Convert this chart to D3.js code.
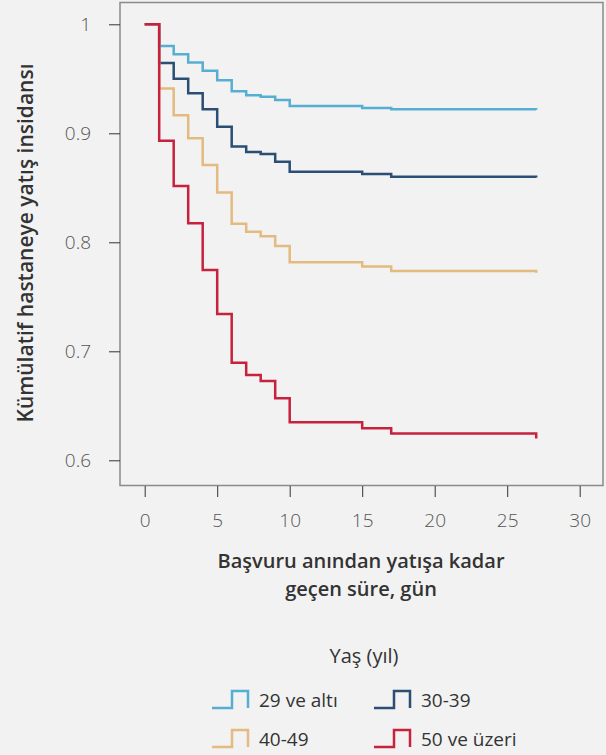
<!DOCTYPE html>
<html><head><meta charset="utf-8">
<script src="https://cdn.jsdelivr.net/npm/d3@7"></script>
<style>
html,body{margin:0;padding:0;background:#f2f2f2;}
svg{display:block;font-family:"Open Sans",sans-serif;}
</style></head><body>
<svg id="c" width="606" height="755"></svg>
<script>
const times = [0,1,2,3,4,5,6,7,8,9,10,15,17,27];
const s29 = [1,0.980,0.9725,0.965,0.9574,0.9486,0.9385,0.935,0.9336,0.9305,0.925,0.9232,0.922,0.9215];
const s30 = [1,0.9645,0.950,0.9367,0.922,0.906,0.888,0.8828,0.881,0.874,0.8648,0.8627,0.8602,0.8595];
const s40 = [1,0.941,0.9165,0.8954,0.871,0.8457,0.817,0.8097,0.8055,0.7966,0.7817,0.7777,0.7737,0.772];
const s50 = [1,0.8932,0.8517,0.8174,0.7746,0.7342,0.6896,0.6783,0.6728,0.6569,0.6349,0.6294,0.6245,0.620];
const seriesNames = ["29 ve altı","30-39","40-49","50 ve üzeri"];
const seriesValues = [s29,s30,s40,s50];
const colors = ["#58aed2","#2b4e74","#e3bb80","#c8213d"];
const xTicks = [0,5,10,15,20,25,30];
const yTicks = [0.6,0.7,0.8,0.9,1];
const yTickLabels = ["0.6","0.7","0.8","0.9","1"];
const yTitle = "Kümülatif hastaneye yatış insidansı";
const xTitle = ["Başvuru anından yatışa kadar","geçen süre, gün"];
const legendTitle = "Yaş (yıl)";

const svg = d3.select("#c");
const x = d3.scaleLinear().domain([0,30]).range([144.7,579.7]);
const y = d3.scaleLinear().domain([0.6,1]).range([460.3,24.3]);

// panel
svg.append("rect").attr("x",120).attr("y",2.5).attr("width",483).attr("height",483)
  .attr("fill","none").attr("stroke","#8a8a8a").attr("stroke-width",1.5);

// y axis
const yAxis = d3.axisLeft(y).tickValues(yTicks).tickFormat((d,i)=>yTickLabels[i]).tickSize(11).tickPadding(18);
const ya = svg.append("g").attr("transform","translate(120,0)").call(yAxis);
ya.select(".domain").remove();
ya.selectAll(".tick line").attr("stroke","#333");
ya.selectAll(".tick text").attr("font-size",19).attr("font-weight",300).attr("fill","#555").attr("font-family","Open Sans");

// x axis
const xAxis = d3.axisBottom(x).tickValues(xTicks).tickSize(11).tickPadding(17);
const xa = svg.append("g").attr("transform","translate(0,486)").call(xAxis);
xa.select(".domain").remove();
xa.selectAll(".tick line").attr("stroke","#333");
xa.selectAll(".tick text").attr("font-size",19).attr("font-weight",300).attr("fill","#555").attr("font-family","Open Sans");

// lines
const line = d3.line().x(d=>x(d[0])).y(d=>y(d[1])).curve(d3.curveStepAfter);
seriesValues.forEach((vals,i)=>{
  const pts = times.map((t,j)=>[t,vals[j]]);
  svg.append("path").attr("d",line(pts)).attr("fill","none")
    .attr("stroke",colors[i]).attr("stroke-width",2.5);
});

// y title
svg.append("text").attr("transform","translate(33,243) rotate(-90)")
  .attr("text-anchor","middle").attr("font-size",21).attr("font-weight",600)
  .attr("fill","#333").text(yTitle);

// x title (two lines)
xTitle.forEach((t,i)=>{
  svg.append("text").attr("x",361).attr("y",568 + i*27.5).attr("text-anchor","middle")
    .attr("font-size",20).attr("font-weight",600).attr("fill","#333").text(t);
});

// legend
svg.append("text").attr("x",364).attr("y",663).attr("text-anchor","middle")
  .attr("font-size",20).attr("fill","#333").text(legendTitle);
const legPos = [[212,708],[374,708],[212,747],[374,747]];
seriesNames.forEach((n,i)=>{
  const [lx,ly] = legPos[i];
  const p = d3.path();
  p.moveTo(lx,ly); p.lineTo(lx+20,ly); p.lineTo(lx+20,ly-17); p.lineTo(lx+36,ly-17); p.lineTo(lx+36,ly);
  svg.append("path").attr("d",p.toString()).attr("fill","none").attr("stroke",colors[i]).attr("stroke-width",2.5);
  svg.append("text").attr("x",lx+47).attr("y",ly-1.5).attr("font-size",19).attr("fill","#333").text(n);
});
</script>
</body></html>
